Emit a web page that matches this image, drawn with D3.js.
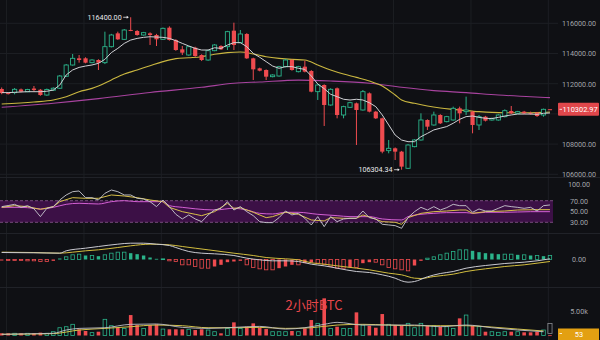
<!DOCTYPE html>
<html><head><meta charset="utf-8">
<script src="https://cdn.jsdelivr.net/npm/d3@7/dist/d3.min.js"></script>
<style>html,body{margin:0;padding:0;background:#0f1014;overflow:hidden}svg{display:block}</style>
</head><body>
<svg id="chart" width="600" height="340"></svg>
<script>
// ---------- DATA (2h BTC candles) ----------
const opens = [111650,111380,111410,111620,111470,111680,111600,111250,111570,111700,
112490,113238,113680,113680,113393,113570,113393,114452,115335,114938,
115560,115490,115225,115335,115225,114938,115710,114894,114275,113900,
114386,113900,113569,114187,114496,114452,115512,114717,115291,113680,
113017,112907,112466,112510,113128,113569,112797,113128,112841,111473,
111914,110590,111694,109928,110436,110700,110259,111362,110149,109707,
107566,107721,107500,106397,107831,108273,109597,109266,109928,109487,
109597,110370,110149,110149,109266,109817,109597,109597,109817,110193,
110040,110149,110050,110082,109928,110310];
const highs = [111750,111420,111715,111680,111660,111848,111650,111680,111760,112570,
113300,113967,113900,113750,113620,113620,115445,115300,115445,115620,
116400,115550,115430,115400,115300,115720,115800,114950,114496,114500,
114450,113950,114250,114620,114550,115500,116041,115556,115350,113720,
113060,112950,112620,113180,113620,113620,113180,113525,112900,111960,
111960,111700,111750,110540,110800,110750,111583,111420,110200,109750,
108273,107780,107550,108000,108320,110038,109640,110149,109980,109870,
110480,110480,111142,110200,109928,109870,109750,109980,110300,110524,
110200,110200,110150,110130,110350,110320];
const lows = [111300,111280,111296,111430,111440,111470,111200,111200,111520,111650,
112450,113200,113393,113350,113350,112907,113300,114400,114900,114900,
115480,115180,115180,114563,114496,114900,114850,114180,113900,113850,
113780,113500,113520,114150,114230,114231,114231,114680,113640,112245,
112820,112245,112420,112470,113080,112860,112750,112750,111430,110921,
109200,110540,109707,109707,110400,107941,110220,110100,109660,107390,
107390,106948,106304.34,106350,107787,108230,108935,109220,109330,109440,
109550,109376,109928,108714,108935,109500,109550,109550,109770,109990,
109990,109990,109950,109800,109817,110290];
const closes = [111380,111320,111627,111470,111620,111580,111250,111620,111700,112510,
113238,113680,113570,113393,113570,113393,114452,115225,114938,115556,
115510,115225,115380,115225,114938,115666,114894,114231,114055,114452,
113834,113569,114187,114563,114276,115445,114563,115291,113680,112951,
112863,112466,112576,113128,113569,112907,113128,112797,111473,111914,
110590,111627,109928,110480,110744,110259,111473,110149,109707,107500,
107721,107500,106507,107941,108273,109597,109155,109928,109376,109817,
110370,110038,110259,109266,109817,109553,109707,109928,110215,110038,
110150,110038,110000,109862,110303,110302.97];
const volumes = [460,460,460,460,460,460,600,460,790,1620,
1830,2330,1290,940,600,790,3370,2040,1620,1480,
4260,2180,1480,2180,2330,1340,1290,1290,1290,1290,
1140,1290,1140,790,460,1480,2740,1480,1830,2530,
1620,1340,790,790,790,940,790,1480,3220,2530,
7740,1480,1830,1480,1480,4820,2180,2040,1620,4470,
2330,2180,2040,2530,1620,2530,2040,2040,1830,1830,
1480,3570,4260,2040,1830,790,790,660,790,790,
790,660,660,790,1140,53];
const projectedVolume = 2500;
// MA lines on price panel
const maShort = [111410,111410,111430,111450,111470,111470,111470,111500,111580,111910,
112580,112910,113080,113170,113240,113350,113610,114060,114340,114670,
114890,115000,115070,115110,115090,115070,115000,114850,114670,114500,
114340,114230,114230,114380,114340,114560,114720,114720,114450,114010,
113750,113460,113170,113020,113130,113130,113020,112950,112510,111980,
111670,111300,111140,110970,110920,110970,110920,110740,110480,109930,
109270,108600,108270,108160,108160,108490,108710,108940,109050,109160,
109380,109640,109820,109860,109770,109710,109690,109770,109860,109930,
109990,109990,109990,109970,110040,110060];
const maMidIdx = [0,5,8,10,12,14,15,17,19,21,23,25,27,29,31,33,35,37,39,41,43,45,47,49,51,53,55,57,59,61,62,64,66,68,70,72,74,76,78,80,82,84,85];
const maMidVal = [110660,110790,110920,111140,111470,111690,111850,112250,112640,112910,
113190,113460,113660,113720,113790,113950,114060,114100,113970,113790,
113680,113610,113570,113240,112910,112640,112420,112180,111850,111250,
110920,110700,110520,110390,110300,110220,110150,110100,110080,110080,
110080,110100,110130];
const maLongIdx = [0,8,15,23,31,36,40,46,51,57,62,67,72,77,82,85];
const maLongVal = [110440,110710,111010,111420,111760,112030,112115,112240,112180,112030,111760,111540,111410,111250,111140,111075];
// RSI
const rsiFast = [59,61,63.3,57.7,60.8,55,40.5,55.9,59,71.3,
80.6,86.7,88,75.6,75.6,71.3,83.7,89.8,86.7,80.6,
80.6,74.4,73.2,68.2,59,71.3,59,44.8,36.2,43.6,
36.2,31.2,43.6,52.8,55.9,68.2,52.8,59,49.7,42.3,
31.2,29.4,29.4,38.6,50.9,43.6,46.6,37.4,25.1,40.5,
22,40.5,31.2,36.2,37.4,37.4,50.9,38.6,36.2,26.3,
25.1,23.8,18.9,38.6,49.7,57.7,52.8,59,52.8,57.1,
63.3,60.8,60.8,48.5,54.7,50.9,50.9,55.9,60.8,59,
57.7,55.9,57.7,50.9,60.8,62.1];
const rsiMidIdx = [0,2,4,6,8,9,11,13,15,17,19,21,23,25,26,28,30,31,33,35,36,37,39,41,42,44,46,48,50,51,53,55,56,57,59,61,62,63,65,67,69,71,72,73,75,78,80,83,85];
const rsiMidVal = [57.7,60.8,59,54,59,68.2,75.6,74.4,74.4,80.6,78.7,75.6,71.3,68.2,57.7,49.7,44.8,42.3,49.7,65.2,55.9,57.1,48.5,38.6,40.5,48.5,44.8,34.3,32.5,38.6,37.4,37.4,43.6,39.9,31.2,30,26.3,38.6,46.6,49.7,50.9,52.8,52.8,46.6,49.7,50.9,52.8,53.4,53.4];
const rsiSlowIdx = [0,3,5,6,8,10,12,15,17,19,21,25,26,28,30,33,36,38,40,42,44,46,49,52,54,57,59,62,63,65,67,69,72,73,75,78,82,85];
const rsiSlowVal = [57.7,57.7,55.9,54.7,57.7,63.3,65.2,63.9,68.2,70.1,68.2,68.2,60.8,57.7,55,52.8,55.9,52.8,46.6,45.4,48.5,48.5,44.8,42.3,40.5,40.5,36.2,34.3,40.5,44.8,46.6,47.9,47.9,46.6,48.5,48.5,49.7,49.7];
// MACD
const macdHist = [-40,-40,-40,-40,-53,-53,-80,-80,-53,40,
107,187,213,160,160,133,187,253,293,293,
253,213,160,80,27,27,-53,-80,-213,-213,
-280,-347,-347,-280,-213,-107,-80,-53,-213,-320,
-373,-413,-413,-347,-280,-213,-213,-147,-120,-147,
-187,-280,-347,-347,-320,-320,-147,-107,-107,-213,
-320,-373,-413,-453,-240,-53,53,107,187,253,
320,387,387,347,293,253,240,213,213,213,
187,187,160,160,133,160];
const difIdx = [0,5,9,10,13,15,18,20,22,24,26,27,29,31,33,36,38,40,42,44,46,48,50,52,55,57,59,61,62,63,64,66,68,70,72,75,78,81,83,85];
const difVal = [280,267,253,347,453,520,613,653,653,613,560,480,320,253,227,160,53,-13,-53,-53,-80,-187,-253,-347,-480,-520,-613,-747,-853,-907,-880,-693,-560,-480,-347,-240,-160,-107,-53,27];
const deaIdx = [0,5,9,11,13,15,18,20,23,26,28,30,32,34,36,39,41,44,46,48,50,52,55,57,60,62,64,65,67,70,72,75,78,81,83,85];
const deaVal = [293,280,253,293,347,387,480,547,613,587,520,453,387,320,253,160,80,27,-13,-133,-187,-253,-347,-413,-547,-613,-747,-760,-680,-587,-480,-373,-280,-213,-147,-80];
// Volume MAs
const volMaFastIdx = [0,4,8,10,12,16,20,24,28,32,36,40,44,47,50,52,56,60,64,68,72,76,80,84];
const volMaFastVal = [250,350,460,1140,1480,1620,2330,2400,1690,1480,1690,1900,1340,1620,2330,2740,2180,2180,2180,1830,2180,1620,1140,790];
const volMaSlowIdx = [0,8,12,16,20,24,28,32,36,40,44,48,52,56,60,64,68,72,76,80,84];
const volMaSlowVal = [250,390,1140,1480,1830,2180,2040,1620,1620,1690,1480,1620,2180,2330,2180,2040,2040,2040,1760,1340,940];
// ticks / labels
const priceGrid = [106000,108000,110000,112000,114000,116000];
const priceLabels = [106000,108000,112000,114000,116000]; // 110000 is hidden under the last-price tag
const rsiTicks = [100,70,50,30];
const macdTicks = [0];
const volTicks = [5000];
const timeGrid = [0.75,12.75,24.75,36.75,48.75,60.75,72.75,84.75];
const highMark = {i:20, v:116400};
const lowMark = {i:62, v:106304.34};
const lastPrice = 110302.97;
const lastVolume = 53;
const title = '2小时BTC';

// ---------- DRAW ----------
const BG='#0f1014', UP='#2bb38a', DN='#ef4b4f', GRID='#1c1e23';
const svg = d3.select('#chart');
svg.append('rect').attr('width',600).attr('height',340).attr('fill',BG);
const N = opens.length;
const x = d3.scaleLinear().domain([0, N-1]).range([1.7, 1.7 + 6.45*(N-1)]);
const bw = 4.2;
const yP = d3.scaleLinear().domain([106000,116000]).range([174.3,23.3]);
const yR = d3.scaleLinear().domain([0,100]).range([238.5,184.5]);
const yM = d3.scaleLinear().domain([-1000,1000]).range([284.5,234.5]);
const yV = d3.scaleLinear().domain([0,5000]).range([335.5,311.5]);
const PR = 553;

const defs = svg.append('defs');
function clip(id,y0,y1){defs.append('clipPath').attr('id',id).append('rect').attr('x',0).attr('y',y0).attr('width',PR).attr('height',y1-y0);}
clip('cMain',0,177); clip('cRsi',178,233); clip('cMacd',234,287); clip('cVol',288,340);

// grid
const g0 = svg.append('g');
g0.selectAll('line.v').data(timeGrid).join('line').attr('class','v')
  .attr('x1',d=>x(d)).attr('x2',d=>x(d)).attr('y1',0).attr('y2',340).attr('stroke',GRID).attr('stroke-width',1);
g0.selectAll('line.h').data(priceGrid).join('line').attr('class','h')
  .attr('x1',0).attr('x2',PR+5).attr('y1',d=>yP(d)).attr('y2',d=>yP(d)).attr('stroke',GRID);
[177.5,233.5,287.5].forEach(yy=>g0.append('line').attr('x1',0).attr('x2',600).attr('y1',yy).attr('y2',yy).attr('stroke','#202228'));

// ---- main panel
const gm = svg.append('g').attr('clip-path','url(#cMain)');
const lineFrom = (ys)=>d3.line().x(d=>x(d[0])).y(d=>ys(d[1]));
const pairs = (a,b)=>a.map((v,k)=>[v,b[k]]);
gm.append('path').datum(pairs(maLongIdx,maLongVal)).attr('d',lineFrom(yP).curve(d3.curveMonotoneX))
  .attr('fill','none').attr('stroke','#a8439f').attr('stroke-width',1.1);
gm.append('path').datum(pairs(maMidIdx,maMidVal)).attr('d',lineFrom(yP).curve(d3.curveMonotoneX))
  .attr('fill','none').attr('stroke','#c9b640').attr('stroke-width',1.1);
const cd = d3.range(N).map(i=>({i,o:opens[i],h:highs[i],l:lows[i],c:closes[i],up:closes[i]>=opens[i]}));
const cg = gm.selectAll('g.c').data(cd).join('g');
cg.append('line').attr('x1',d=>x(d.i)).attr('x2',d=>x(d.i)).attr('y1',d=>yP(d.h)).attr('y2',d=>yP(d.l))
  .attr('stroke',d=>d.up?UP:DN).attr('stroke-width',1);
cg.append('rect').attr('x',d=>x(d.i)-bw/2).attr('width',bw)
  .attr('y',d=>yP(Math.max(d.o,d.c))).attr('height',d=>Math.max(1,Math.abs(yP(d.o)-yP(d.c))))
  .attr('fill',d=>d.up?BG:DN).attr('stroke',d=>d.up?UP:'none').attr('stroke-width',0.9);
gm.append('path').datum(maShort.map((v,i)=>[i,v])).attr('d',lineFrom(yP))
  .attr('fill','none').attr('stroke','#cfd0d4').attr('stroke-width',1);

// annotations
function mark(m){
  const xx = x(m.i), yy = yP(m.v);
  svg.append('text').attr('x',xx-9).attr('y',yy+2.5).attr('text-anchor','end')
    .attr('font-family','Roboto, "DejaVu Sans", sans-serif').attr('font-size',7.2).attr('fill','#e8e8ea')
    .text(d3.format('.2f')(m.v));
  svg.append('line').attr('x1',xx-7.5).attr('x2',xx-2.5).attr('y1',yy).attr('y2',yy).attr('stroke','#e8e8ea').attr('stroke-width',0.8);
  svg.append('path').attr('d',`M${xx-2}, ${yy} l-2,-1.5 l0,3 z`).attr('fill','#e8e8ea');
}
mark(highMark); mark(lowMark);

// axis labels
const fontAx = 'Roboto, "DejaVu Sans", sans-serif';
function axisLabels(scale, ticks, fmt){
  const ax = d3.axisRight(scale).tickValues(ticks).tickFormat(fmt).tickSize(0).tickPadding(0);
  const g = svg.append('g').attr('transform','translate(579,0)').call(ax);
  g.select('.domain').remove();
  g.selectAll('text').attr('x',0).attr('text-anchor','middle').attr('fill','#a3a5ab')
    .attr('font-size',7.2).attr('font-family',fontAx);
}
axisLabels(yP, priceLabels, d3.format('.2f'));
axisLabels(yR, rsiTicks, d3.format('.2f'));
axisLabels(yM, macdTicks, d3.format('.2f'));
axisLabels(yV, volTicks, d=>(d/1000).toFixed(2)+'k');

// last price tag
const ly = yP(lastPrice);
svg.append('rect').attr('x',558).attr('y',ly-6.5).attr('width',41).attr('height',13).attr('fill','#e0474b').attr('rx',1);
svg.append('line').attr('x1',559.5).attr('x2',562).attr('y1',ly).attr('y2',ly).attr('stroke','#fff').attr('stroke-width',0.8);
svg.append('text').attr('x',580).attr('y',ly+2.6).attr('text-anchor','middle').attr('fill','#ffffff')
  .attr('font-size',7.4).attr('font-family',fontAx).text(d3.format('.2f')(lastPrice));

// ---- RSI panel
const gr = svg.append('g').attr('clip-path','url(#cRsi)');
gr.append('rect').attr('x',0).attr('width',PR).attr('y',yR(70)).attr('height',yR(30)-yR(70)).attr('fill','#3c1046');
[70,30].forEach(v=>gr.append('line').attr('x1',0).attr('x2',PR).attr('y1',yR(v)).attr('y2',yR(v))
  .attr('stroke','#8a5a92').attr('stroke-dasharray','3,2').attr('stroke-width',0.8));
gr.append('path').datum(pairs(rsiSlowIdx,rsiSlowVal)).attr('d',lineFrom(yR).curve(d3.curveMonotoneX))
  .attr('fill','none').attr('stroke','#d35fd3').attr('stroke-width',1);
gr.append('path').datum(pairs(rsiMidIdx,rsiMidVal)).attr('d',lineFrom(yR))
  .attr('fill','none').attr('stroke','#d8c048').attr('stroke-width',1);
gr.append('path').datum(rsiFast.map((v,i)=>[i,v])).attr('d',lineFrom(yR))
  .attr('fill','none').attr('stroke','#c9c9d0').attr('stroke-width',0.9);

// ---- MACD panel
const gM = svg.append('g').attr('clip-path','url(#cMacd)');
const hd = macdHist.map((v,i)=>({i,v,hollow: i>0 && Math.abs(v)>=Math.abs(macdHist[i-1])}));
gM.selectAll('rect').data(hd).join('rect')
  .attr('x',d=>x(d.i)-bw/2+0.4).attr('width',bw-0.8)
  .attr('y',d=>Math.min(yM(d.v),yM(0))).attr('height',d=>Math.max(0.8,Math.abs(yM(d.v)-yM(0))))
  .attr('fill',d=>d.hollow?BG:(d.v>=0?UP:DN)).attr('stroke',d=>d.hollow?(d.v>=0?UP:DN):'none').attr('stroke-width',0.8);
gM.append('path').datum(pairs(deaIdx,deaVal)).attr('d',lineFrom(yM).curve(d3.curveMonotoneX))
  .attr('fill','none').attr('stroke','#d2bd3e').attr('stroke-width',1);
gM.append('path').datum(pairs(difIdx,difVal)).attr('d',lineFrom(yM).curve(d3.curveMonotoneX))
  .attr('fill','none').attr('stroke','#c9c9d0').attr('stroke-width',1);

// ---- Volume panel
const gv = svg.append('g').attr('clip-path','url(#cVol)');
gv.append('rect').attr('x',x(N-1)-bw/2).attr('width',bw).attr('y',yV(projectedVolume)).attr('height',yV(0)-yV(projectedVolume)-2)
  .attr('fill','none').attr('stroke','#8a8c92').attr('stroke-width',0.8);
gv.selectAll('rect.vb').data(cd).join('rect').attr('class','vb')
  .attr('x',d=>x(d.i)-bw/2+0.3).attr('width',bw-0.6)
  .attr('y',d=>yV(volumes[d.i])).attr('height',d=>Math.max(0.8,yV(0)-yV(volumes[d.i])))
  .attr('fill',d=>d.up?BG:DN).attr('stroke',d=>d.up?UP:'none').attr('stroke-width',0.8);
gv.append('path').datum(pairs(volMaSlowIdx,volMaSlowVal)).attr('d',lineFrom(yV).curve(d3.curveMonotoneX))
  .attr('fill','none').attr('stroke','#d2c24a').attr('stroke-width',1);
gv.append('path').datum(pairs(volMaFastIdx,volMaFastVal)).attr('d',lineFrom(yV).curve(d3.curveMonotoneX))
  .attr('fill','none').attr('stroke','#c0c0c6').attr('stroke-width',0.9);

// volume tag
svg.append('rect').attr('x',558).attr('y',328.5).attr('width',41).attr('height',12).attr('fill','#e3a012');
svg.append('line').attr('x1',559.5).attr('x2',562).attr('y1',333.5).attr('y2',333.5).attr('stroke','#fff').attr('stroke-width',0.8);
svg.append('text').attr('x',579).attr('y',337).attr('text-anchor','middle').attr('fill','#fff')
  .attr('font-size',7.4).attr('font-family',fontAx).text(lastVolume);

// title watermark
svg.append('text').attr('x',314).attr('y',310).attr('text-anchor','middle')
  .attr('font-family','"Noto Sans CJK SC", sans-serif').attr('font-size',13).attr('fill','#e8464a')
  .text(title);
</script>
</body></html>
